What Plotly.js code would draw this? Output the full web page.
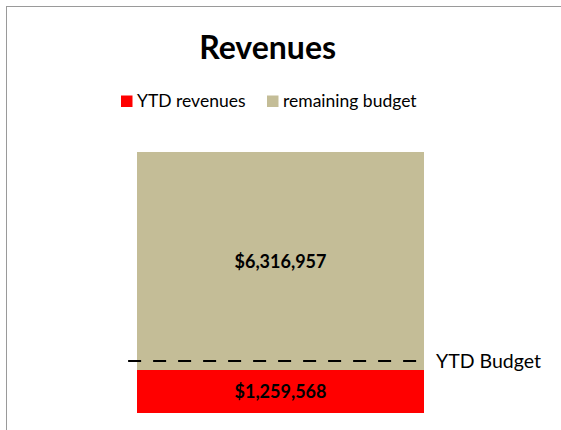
<!DOCTYPE html>
<html>
<head>
<meta charset="utf-8">
<script src="https://cdn.plot.ly/plotly-3.0.1.min.js"></script>
<style>
  html, body { margin: 0; padding: 0; overflow: hidden; background: #fff; }
  #wrap { position: relative; width: 561px; height: 430px; }
  #chart { width: 561px; height: 430px; }
  #frame { position: absolute; left: 6px; top: 6px; width: 700px; height: 600px;
           border: 1.5px solid #9a9a9a; pointer-events: none; box-sizing: border-box; }
</style>
</head>
<body>
<div id="wrap">
  <div id="chart"></div>
  <div id="frame"></div>
</div>
<script>
// Data
const categories = ["Revenues"];
const ytdRevenues = [1259568];
const remainingBudget = [6316957];
const ytdBudget = 1510000;
const seriesNames = ["YTD revenues", "remaining budget"];
const seriesColors = ["#ff0000", "#c4bd97"];
const budgetLabel = "YTD Budget";

const total = ytdRevenues[0] + remainingBudget[0];
const font = "Lato, 'Open Sans', sans-serif";

const traces = [
  {
    type: "bar", x: [0], y: ytdRevenues, name: seriesNames[0], width: 1,
    marker: { color: seriesColors[0] },
    texttemplate: "$%{y:,.0f}", textposition: "inside", insidetextanchor: "middle",
    textfont: { family: font, size: 18, color: "#000", weight: "bold" },
    hoverinfo: "none", showlegend: false
  },
  {
    type: "bar", x: [0], y: remainingBudget, name: seriesNames[1], width: 1,
    marker: { color: seriesColors[1] },
    texttemplate: "$%{y:,.0f}", textposition: "inside", insidetextanchor: "middle",
    textfont: { family: font, size: 18, color: "#000", weight: "bold" },
    hoverinfo: "none", showlegend: false
  },
  {
    type: "scatter", mode: "lines", x: [-0.531, 0.493], y: [ytdBudget, ytdBudget],
    line: { color: "#000", width: 2, dash: "13px,12px" },
    showlegend: false, hoverinfo: "none"
  }
];

// Manual legend geometry (pixels converted to plot-area paper coords)
const L = 100, PW = 361, T = 152, PH = 261;
const px = v => (v - L) / PW;
const py = v => 1 - (v - T) / PH;
const legendItems = [
  { sq: 121, tx: 137 },
  { sq: 267, tx: 283 }
];
const shapes = [];
const annotations = [
  { x: 0.535, y: ytdBudget, xref: "x", yref: "y", text: budgetLabel,
    showarrow: false, xanchor: "left", yanchor: "middle",
    font: { family: font, size: 19.5, color: "#000" } }
];
legendItems.forEach((it, i) => {
  shapes.push({ type: "rect", xref: "paper", yref: "paper",
    x0: px(it.sq), x1: px(it.sq + 11.5), y0: py(95.5), y1: py(107),
    fillcolor: seriesColors[i], line: { width: 0 } });
  annotations.push({ xref: "paper", yref: "paper", x: px(it.tx - 2), y: py(101),
    text: seriesNames[i], showarrow: false, xanchor: "left", yanchor: "middle",
    font: { family: font, size: 17.5, color: "#000" } });
});

const layout = {
  width: 561, height: 430,
  margin: { l: L, r: 561 - L - PW, t: T, b: 430 - T - PH, pad: 0 },
  paper_bgcolor: "#fff", plot_bgcolor: "#fff",
  barmode: "stack",
  font: { family: font, color: "#000" },
  title: {
    text: "<b>Revenues</b>", font: { family: font, size: 32, color: "#000" },
    x: 0.477, xanchor: "center", xref: "container",
    y: 1 - 48 / 430, yanchor: "middle", yref: "container"
  },
  showlegend: false,
  xaxis: { range: [-0.629, 0.629], visible: false, fixedrange: true },
  yaxis: { range: [0, total], visible: false, fixedrange: true },
  shapes: shapes,
  annotations: annotations
};

Plotly.newPlot("chart", traces, layout, { displayModeBar: false, staticPlot: true });
</script>
</body>
</html>
